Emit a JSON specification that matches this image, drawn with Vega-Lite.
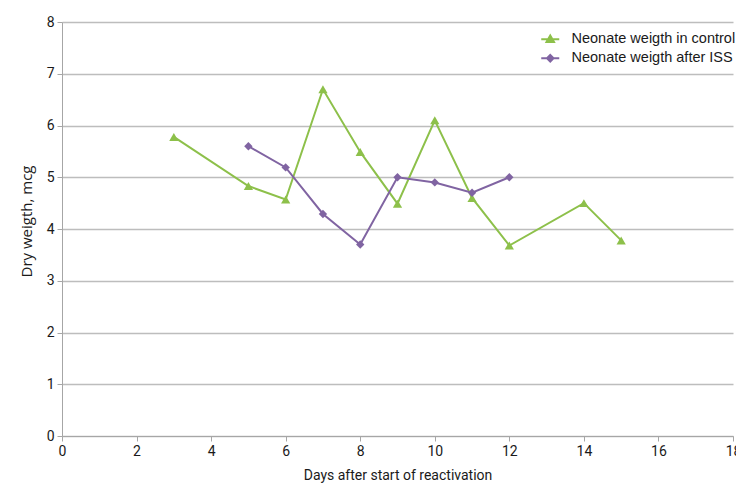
{
  "$schema": "https://vega.github.io/schema/vega-lite/v6.json",
  "width": 671,
  "height": 414,
  "autosize": "none",
  "padding": {"left": 62, "top": 22, "right": 3, "bottom": 49},
  "background": "white",
  "config": {"view": {"stroke": null}, "font": "Liberation Sans"},
  "data": {
    "values": [
      {"series": "Neonate weigth in control", "day": 3, "weight": 5.78},
      {"series": "Neonate weigth in control", "day": 5, "weight": 4.83},
      {"series": "Neonate weigth in control", "day": 6, "weight": 4.57},
      {"series": "Neonate weigth in control", "day": 7, "weight": 6.7},
      {"series": "Neonate weigth in control", "day": 8, "weight": 5.49},
      {"series": "Neonate weigth in control", "day": 9, "weight": 4.49},
      {"series": "Neonate weigth in control", "day": 10, "weight": 6.1},
      {"series": "Neonate weigth in control", "day": 11, "weight": 4.6},
      {"series": "Neonate weigth in control", "day": 12, "weight": 3.68},
      {"series": "Neonate weigth in control", "day": 14, "weight": 4.5},
      {"series": "Neonate weigth in control", "day": 15, "weight": 3.78},
      {"series": "Neonate weigth after ISS", "day": 5, "weight": 5.6},
      {"series": "Neonate weigth after ISS", "day": 6, "weight": 5.19},
      {"series": "Neonate weigth after ISS", "day": 7, "weight": 4.29},
      {"series": "Neonate weigth after ISS", "day": 8, "weight": 3.7},
      {"series": "Neonate weigth after ISS", "day": 9, "weight": 5.0},
      {"series": "Neonate weigth after ISS", "day": 10, "weight": 4.9},
      {"series": "Neonate weigth after ISS", "day": 11, "weight": 4.7},
      {"series": "Neonate weigth after ISS", "day": 12, "weight": 5.0}
    ]
  },
  "encoding": {
    "x": {
      "field": "day",
      "type": "quantitative",
      "scale": {"domain": [0, 18], "nice": false},
      "axis": {
        "title": "Days after start of reactivation",
        "values": [0, 2, 4, 6, 8, 10, 12, 14, 16, 18],
        "grid": false,
        "domainColor": "#a6a6a6",
        "tickColor": "#a6a6a6",
        "tickSize": 5,
        "labelFont": "Roboto",
        "labelFontSize": 14,
        "labelColor": "#1a1a1a",
        "labelPadding": 3,
        "labelBound": false,
        "labelOverlap": false,
        "labelFlush": false,
        "titleFont": "Roboto",
        "titleFontSize": 14,
        "titleFontWeight": "normal",
        "titleColor": "#1a1a1a",
        "titlePadding": 10
      }
    },
    "y": {
      "field": "weight",
      "type": "quantitative",
      "scale": {"domain": [0, 8], "nice": false},
      "axis": {
        "title": "Dry  weigth, mcg",
        "values": [0, 1, 2, 3, 4, 5, 6, 7, 8],
        "grid": true,
        "gridColor": "#bdbdbd",
        "gridWidth": 1.3,
        "domainColor": "#a6a6a6",
        "tickColor": "#a6a6a6",
        "tickSize": 5,
        "labelFont": "Roboto",
        "labelFontSize": 14,
        "labelColor": "#1a1a1a",
        "labelPadding": 3,
        "labelBound": false,
        "titleFont": "Open Sans",
        "titleFontSize": 15,
        "titleFontWeight": "normal",
        "titleColor": "#1a1a1a",
        "titlePadding": 12,
        "titleY": 199
      }
    },
    "color": {
      "field": "series",
      "type": "nominal",
      "scale": {
        "domain": ["Neonate weigth in control", "Neonate weigth after ISS"],
        "range": ["#8dc04a", "#8064a2"]
      },
      "legend": {
        "title": null,
        "orient": "none",
        "legendX": 481,
        "legendY": 10,
        "padding": 0,
        "symbolSize": 100,
        "labelOffset": 14,
        "rowPadding": 4,
        "labelLimit": 300,
        "labelFont": "Liberation Sans",
        "labelFontSize": 14.5,
        "labelColor": "#1a1a1a",
        "encode": {
          "symbols": {
            "update": {
              "shape": {"signal": "datum.value === 'Neonate weigth in control' ? 'M-1.8,0H1.8M0,-0.75L0.75,0.55L-0.75,0.55Z' : 'M-1.8,0H1.8M0,-0.65L0.65,0L0,0.65L-0.65,0Z'"},
              "fill": {"signal": "scale('color', datum.value)"},
              "stroke": {"signal": "scale('color', datum.value)"},
              "strokeWidth": {"value": 2},
              "opacity": {"value": 1},
              "size": {"value": 100}
            }
          }
        }
      }
    }
  },
  "layer": [
    {"mark": {"type": "line", "strokeWidth": 2}},
    {
      "transform": [{"filter": "datum.series === 'Neonate weigth in control'"}],
      "mark": {"type": "point", "shape": "triangle-up", "filled": true, "opacity": 1, "size": 85}
    },
    {
      "transform": [{"filter": "datum.series === 'Neonate weigth after ISS'"}],
      "mark": {"type": "point", "shape": "diamond", "filled": true, "opacity": 1, "size": 70}
    }
  ]
}
